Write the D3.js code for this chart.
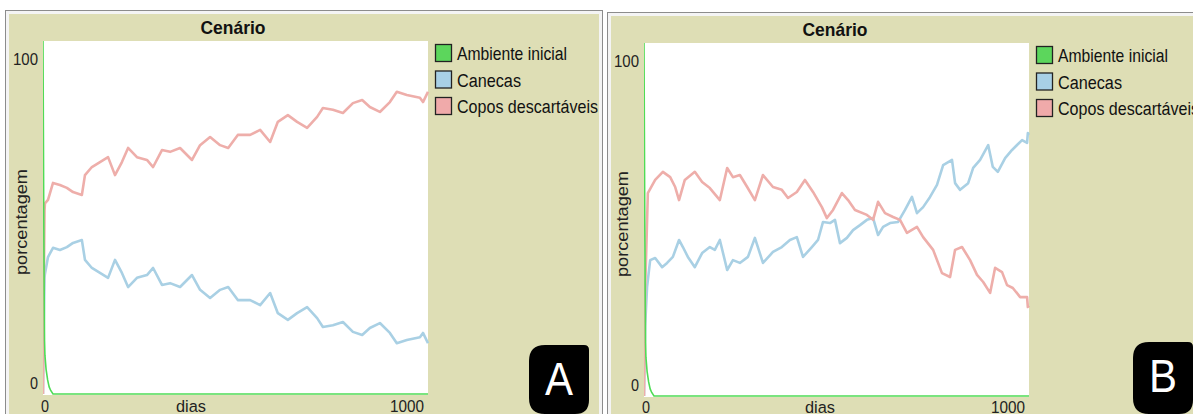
<!DOCTYPE html>
<html>
<head>
<meta charset="utf-8">
<script src="https://cdn.jsdelivr.net/npm/d3@7/dist/d3.min.js"></script>
<style>
  html, body { margin: 0; padding: 0; background: #ffffff; }
  svg { display: block; }
  text { font-family: "Liberation Sans", Arial, sans-serif; }
</style>
</head>
<body>
<svg id="chart" width="1193" height="414"></svg>
<script>
// ---- data (day, percent) ----
const titulo = "Cenário";
const eixoX = "dias";
const eixoY = "porcentagem";
const seriesNomes = ["Ambiente inicial", "Canecas", "Copos descartáveis"];
const xTicks = [0, 1000];
const yTicks = [0, 100];

const ambienteA = [[0,100],[1,75],[2,50],[3,30],[4,15],[5,11],[8,7],[12,4],[16,2],[20,1],[26,0],[1000,0]];
const canecasA = [[0,0],[2,20],[4,33],[5,34],[13,38.8],[26,41.4],[44,40.8],[62,41.6],[78,42.8],[101,43.6],
  [109,38.0],[127,35.7],[148,34.3],[169,32.9],[187,38.0],[205,34.3],[221,30.3],[244,32.9],[270,33.7],[286,35.7],
  [309,30.9],[330,31.4],[356,30.3],[387,33.7],[408,29.5],[434,27.2],[460,29.5],[481,30.3],[506,26.6],[538,26.6],
  [564,25.2],[590,28.6],[610,22.9],[636,21.0],[660,22.9],[686,24.6],[712,21.5],[727,19.0],[753,19.5],[779,20.4],
  [805,17.6],[829,16.7],[849,18.7],[875,20.1],[901,17.3],[919,14.4],[945,15.3],[979,16.1],[987,17.3],[1000,14.4]];
const coposA = [[0,0],[2,30],[4,52],[5,54],[13,55],[26,59.8],[44,59.2],[62,58.4],[78,57.2],[101,56.4],
  [109,62.0],[127,64.3],[148,65.7],[169,67.1],[187,62.0],[205,65.7],[221,69.7],[244,67.1],[270,66.3],[286,64.3],
  [309,69.1],[330,68.6],[356,69.7],[387,66.3],[408,70.5],[434,72.8],[460,70.5],[481,69.7],[506,73.4],[538,73.4],
  [564,74.8],[590,71.4],[610,77.1],[636,79.0],[660,77.1],[686,75.4],[712,78.5],[727,81.0],[753,80.5],[779,79.6],
  [805,82.4],[829,83.3],[849,81.3],[875,79.9],[901,82.7],[919,85.6],[945,84.7],[979,83.9],[987,82.7],[1000,85.6]];

const ambienteB = [[0,100],[1,75],[2,50],[3,30],[4,15],[5,11],[8,7],[12,4],[16,2],[20,1],[26,0],[1000,0]];
const canecasB = [[0,0],[3,20],[8,30.9],[16,38.5],[29,39.1],[47,36.5],[60,37.7],[75,39.4],[91,44.2],[101,42.2],
  [114,39.4],[132,36.5],[151,40.5],[171,42.2],[184,41.4],[197,44.2],[216,35.7],[231,38.5],[249,37.7],[270,39.4],
  [288,44.8],[309,37.7],[335,40.8],[358,42.2],[379,44.2],[397,45.0],[413,39.4],[436,42.2],[452,44.2],[465,49.3],
  [483,49.0],[496,49.9],[509,43.3],[527,44.8],[543,47.0],[561,48.4],[579,49.9],[595,50.4],[608,45.6],[621,47.9],
  [639,49.0],[660,49.3],[678,52.7],[696,56.4],[709,51.8],[725,53.5],[743,56.4],[761,59.8],[777,65.4],[800,66.9],
  [808,60.3],[821,58.4],[842,60.3],[855,64.6],[873,66.9],[894,71.1],[906,64.9],[919,63.5],[938,67.4],[956,69.7],
  [969,71.1],[982,72.5],[995,71.7],[997,74.5],[1000,74.0]];
const coposB = [[0,0],[3,30],[10,57.5],[29,61.2],[49,63.5],[68,62.0],[81,59.2],[91,55.5],[106,61.2],[132,63.5],
  [151,60.6],[171,58.9],[197,55.5],[216,64.6],[231,62.0],[249,62.6],[268,59.2],[288,55.5],[309,62.6],[335,59.2],
  [358,58.4],[374,56.1],[397,57.8],[418,61.2],[439,57.8],[462,53.5],[475,50.4],[491,52.7],[514,57.5],[530,55.5],
  [548,52.7],[579,51.3],[595,49.9],[608,55.0],[626,51.8],[647,50.7],[665,49.9],[683,46.2],[709,47.9],[725,45.0],
  [751,41.4],[774,34.8],[795,33.7],[808,41.4],[826,42.2],[847,38.5],[865,34.3],[881,32.3],[899,29.2],[912,36.3],
  [930,35.1],[943,31.4],[958,30.6],[977,28.0],[995,28.0],[997,25.2],[1000,25.6]];

// ---- styling ----
const OLIVE = "#dedeb5";
const cores = { amb: "#4fdc55", can: "#a9d0e4", cop: "#eeaeaa" };
const legendaCores = ["#5cd65c", "#a8d0e6", "#f0aaaa"];

const svg = d3.select("#chart");

// fit a text to a cap height (and optionally a width)
function fit(t, cap, width, ratio) {
  t.attr("font-size", cap / (ratio || 0.716));
  if (width) t.attr("textLength", width).attr("lengthAdjust", "spacingAndGlyphs");
  return t;
}

function badgePath(x0, y0, x1, y1, rtl, rtr, rbr, rbl) {
  return `M${x0 + rtl},${y0} L${x1 - rtr},${y0} Q${x1},${y0} ${x1},${y0 + rtr}
          L${x1},${y1 - rbr} Q${x1},${y1} ${x1 - rbr},${y1}
          L${x0 + rbl},${y1} Q${x0},${y1} ${x0},${y1 - rbl}
          L${x0},${y0 + rtl} Q${x0},${y0} ${x0 + rtl},${y0} Z`;
}

function painel(cfg, ambiente, canecas, copos, letra) {
  const g = svg.append("g");
  // frame
  g.append("rect").attr("x", cfg.fx + 0.5).attr("y", cfg.fy + 0.5)
    .attr("width", cfg.fw).attr("height", 500)
    .attr("fill", "#f4f4f4").attr("stroke", "#8c8c8c");
  g.append("rect").attr("x", cfg.fx + 4).attr("y", cfg.fy + 4)
    .attr("width", cfg.fw - 7).attr("height", 500).attr("fill", OLIVE);

  const x = d3.scaleLinear().domain([0, 1000]).range([cfg.px0, cfg.px1]);
  const y = d3.scaleLinear().domain([0, 100]).range([cfg.py1, cfg.py0]);

  g.append("rect").attr("x", cfg.px0).attr("y", cfg.py0)
    .attr("width", cfg.px1 - cfg.px0).attr("height", cfg.py1 - cfg.py0 + 1)
    .attr("fill", "#ffffff");

  const clipId = "clip" + letra;
  g.append("clipPath").attr("id", clipId).append("rect")
    .attr("x", cfg.px0).attr("y", cfg.py0 - 1)
    .attr("width", cfg.px1 - cfg.px0 + 1).attr("height", cfg.py1 - cfg.py0 + 2);

  const line = d3.line().x(d => x(d[0])).y(d => y(d[1]));
  const lines = g.append("g").attr("clip-path", `url(#${clipId})`);
  lines.append("path").datum(canecas).attr("d", line)
    .attr("fill", "none").attr("stroke", cores.can).attr("stroke-width", 2.6).attr("stroke-linejoin", "round");
  lines.append("path").datum(copos).attr("d", line)
    .attr("fill", "none").attr("stroke", cores.cop).attr("stroke-width", 2.6).attr("stroke-linejoin", "round");
  lines.append("path").datum(ambiente).attr("d", line)
    .attr("fill", "none").attr("stroke", cores.amb).attr("stroke-width", 1.6);

  // title
  fit(g.append("text").attr("x", cfg.titleX).attr("y", cfg.py0 - 7)
    .attr("text-anchor", "middle").attr("font-weight", "bold").attr("fill", "#111").text(titulo), 12.7, 65);

  // y tick labels
  g.selectAll(".yt").data(yTicks).join("text")
    .attr("x", cfg.px0 - 5)
    .attr("y", d => d === 100 ? y(d) + 24 : y(d) - 5)
    .attr("text-anchor", "end").attr("fill", "#222")
    .text(d => d)
    .each(function(d) { fit(d3.select(this), 11.5, d === 100 ? 25 : 8); });

  // x tick labels
  g.selectAll(".xt").data(xTicks).join("text")
    .attr("x", d => d === 0 ? x(d) - 2 : x(d) - 4)
    .attr("y", cfg.xLabY)
    .attr("text-anchor", d => d === 0 ? "start" : "end").attr("fill", "#222")
    .text(d => d)
    .each(function(d) { fit(d3.select(this), 11.5, d === 0 ? 8 : 34); });

  fit(g.append("text").attr("x", cfg.diasX).attr("y", cfg.xLabY)
    .attr("text-anchor", "middle").attr("fill", "#222").text(eixoX), 11.5, 30);

  fit(g.append("text")
    .attr("transform", `translate(${cfg.px0 - 16},${cfg.porcY}) rotate(-90)`)
    .attr("text-anchor", "middle").attr("fill", "#222").text(eixoY), 11.5, 106);

  // legend
  const lg = g.append("g");
  seriesNomes.forEach((nome, i) => {
    const yy = cfg.legY + i * 26.5;
    lg.append("rect").attr("x", cfg.legX + 0.5).attr("y", yy + 0.5)
      .attr("width", 16).attr("height", 17)
      .attr("fill", legendaCores[i]).attr("stroke", "#222").attr("stroke-width", 1.3);
    fit(lg.append("text").attr("x", cfg.legX + 22).attr("y", yy + 16)
      .attr("fill", "#111").text(nome), 13.5, [110, 64, 141][i]);
  });

  // letter badge
  g.append("path").attr("d", badgePath(cfg.bx, cfg.by, cfg.bx + 60, 414, 16, 5, 14, 16)).attr("fill", "#000");
  fit(g.append("text").attr("x", cfg.bx + 30).attr("y", cfg.by + 50)
    .attr("text-anchor", "middle").attr("fill", "#fff").text(letra), 33, 28);
}

painel({ fx: 5, fy: 10, fw: 597, px0: 43, px1: 428, py0: 41, py1: 394, xLabY: 412,
         titleX: 233, diasX: 191, porcY: 222, legX: 435, legY: 44, bx: 529, by: 345 },
       ambienteA, canecasA, coposA, "A");
painel({ fx: 607, fy: 12, fw: 600, px0: 644, px1: 1029, py0: 43, py1: 396, xLabY: 413,
         titleX: 835, diasX: 820, porcY: 224, legX: 1036, legY: 46, bx: 1133, by: 342 },
       ambienteB, canecasB, coposB, "B");
</script>
</body>
</html>
